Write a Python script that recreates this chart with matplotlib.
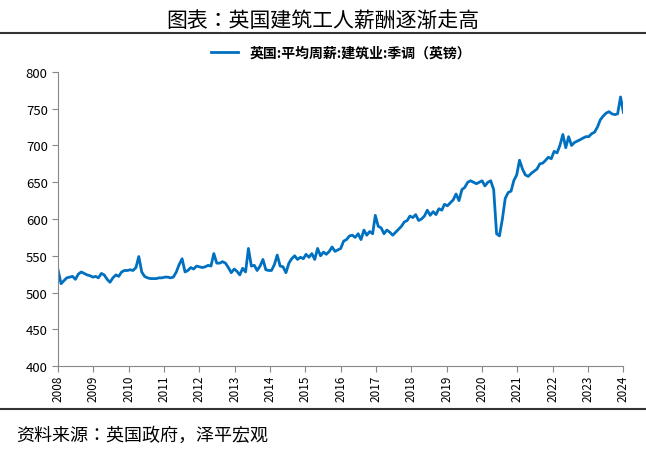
import matplotlib
matplotlib.use("Agg")
import matplotlib.pyplot as plt
import numpy as np
import pandas as pd
from matplotlib.lines import Line2D
from matplotlib import font_manager as fm

cands = ["Noto Sans CJK SC", "Noto Sans CJK JP", "Noto Sans CJK TC", "Noto Sans CJK KR"]
avail = {f.name for f in fm.fontManager.ttflist}
cjk = [c for c in cands if c in avail]
if not cjk:
    for f in fm.findSystemFonts():
        if "CJK" in f or "cjk" in f:
            fm.fontManager.addfont(f)
    avail = {f.name for f in fm.fontManager.ttflist}
    cjk = [c for c in cands if c in avail] or [n for n in avail if "CJK" in n]
plt.rcParams["font.family"] = "sans-serif"
plt.rcParams["font.sans-serif"] = cjk + ["DejaVu Sans"]

title = "图表：英国建筑工人薪酬逐渐走高"
series_name = "英国:平均周薪:建筑业:季调（英镑）"
source = "资料来源：英国政府，泽平宏观"
start = "2008-01"
values = [
 530,512,516,520,521,522,518,525,528,526,
 524,523,521,522,520,526,524,518,514,520,
 524,522,528,530,530,531,530,534,549,528,522,520,
 519,519,519,520,520,521,521,520,521,528,538,546,
 528,530,534,532,536,535,534,535,537,536,553,540,
 540,542,540,534,527,532,529,524,533,528,560,536,
 537,530,536,545,531,530,530,538,551,536,535,527,
 540,546,550,545,548,546,552,548,553,545,560,550,
 555,552,556,562,556,558,560,570,572,577,578,575,
 580,572,585,578,583,580,605,590,588,580,585,582,
 578,582,586,590,596,598,604,602,606,598,600,604,
 612,605,610,606,614,612,620,618,622,626,634,625,
 640,643,650,652,650,648,650,652,
 645,650,652,640,580,577,600,628,636,638,652,660,
 680,668,660,658,662,665,668,675,676,680,684,682,
 692,690,700,715,697,712,700,704,706,708,710,712,
 712,716,718,725,735,740,744,746,743,742,743,766,
 745]
years = list(range(2008, 2025))
yticks = [400, 450, 500, 550, 600, 650, 700, 750, 800]

dates = pd.date_range(start, periods=len(values), freq="MS")
end = dates[-1]
fig = plt.figure(figsize=(6.46, 4.56), dpi=100)
ax = fig.add_axes([0.09, 0.195, 0.875, 0.645])
ax.plot(dates, values, color="#0070C0", lw=2)
ax.set_ylim(400, 800)
ax.set_yticks(yticks)
ax.set_xlim(dates[0], end)
ticks = pd.date_range(dates[0], end, periods=len(years))
ax.set_xticks(ticks)
ax.set_xticklabels([str(y) for y in years], rotation=90, fontsize=8.5)
ax.tick_params(axis="y", labelsize=9.5, length=4, color="#888888")
ax.tick_params(axis="x", length=4, color="#888888", pad=2)
for s in ["top", "right"]:
    ax.spines[s].set_visible(False)
for s in ["left", "bottom"]:
    ax.spines[s].set_color("#888888")
ax.legend([Line2D([0], [0], color="#0070C0", lw=2)], [series_name],
          loc="lower center", bbox_to_anchor=(0.5, 1.0), frameon=False,
          prop={"weight": "bold", "size": 10})

fig.text(0.5, 0.955, title, ha="center", va="center", fontsize=15)
fig.add_artist(Line2D([0.0, 1.0], [0.925, 0.925], color="#333333", lw=1.5))
fig.add_artist(Line2D([0.0, 1.0], [0.1, 0.1], color="#333333", lw=1.5))
fig.text(0.025, 0.045, source, ha="left", va="center", fontsize=13, style="italic")
fig.savefig("out.png", dpi=100)
